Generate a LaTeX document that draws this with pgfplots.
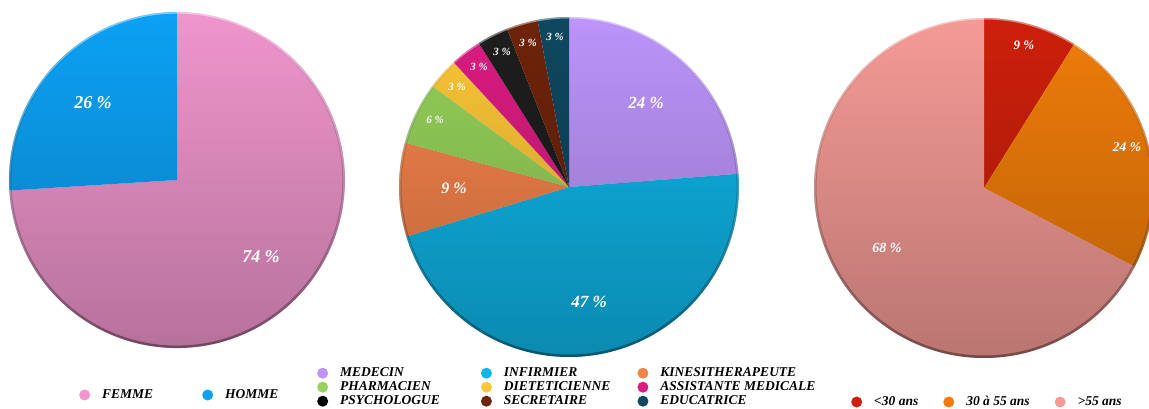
\documentclass[border=0pt]{standalone}
\usepackage{pgfplots}
\pgfplotsset{compat=1.18}
\usetikzlibrary{fadings}
\usepackage{fontspec}
\setmainfont{Liberation Serif}

\definecolor{femme}{RGB}{240,150,205}
\definecolor{homme}{RGB}{12,162,245}
\definecolor{medecin}{RGB}{188,148,250}
\definecolor{infirmier}{RGB}{15,182,232}
\definecolor{kine}{RGB}{245,132,75}
\definecolor{pharma}{RGB}{150,210,90}
\definecolor{diet}{RGB}{252,198,55}
\definecolor{assist}{RGB}{220,28,130}
\definecolor{psycho}{RGB}{30,30,30}
\definecolor{secr}{RGB}{110,36,10}
\definecolor{educ}{RGB}{15,72,95}
\definecolor{jeune}{RGB}{205,32,12}
\definecolor{moyen}{RGB}{240,125,10}
\definecolor{senior}{RGB}{245,155,150}

% slice: cx cy r total start end color
\newcommand{\slice}[7]{%
  \addplot[draw=none, fill=#7, domain=90-360*(#6)/(#4):90-360*(#5)/(#4), samples=120]
    ({#1+#3*cos(x)}, {#2+#3*sin(x)}) -- (axis cs:#1,#2) -- cycle;
}
\newcommand{\gloss}[3]{%
  \fill[black, opacity=0.24, path fading=north] (axis cs:#1,#2) circle[radius=#3];
  \draw[black, line width=2.5pt, opacity=0.38, path fading=north] (axis cs:#1,#2) circle[radius=#3-1.25];
  \draw[white, line width=1.5pt, opacity=0.45, path fading=south] (axis cs:#1,#2) circle[radius=#3-0.75];
}
\newcommand{\lab}[4]{%
  \node[text=white, inner sep=0pt, font=\bfseries\itshape\fontsize{#3}{#3}\selectfont] at (axis cs:#1,#2) {#4};
}

\pgfplotsset{
  base/.style={
    width=1149pt, height=408pt, scale only axis,
    xmin=0, xmax=1149, ymin=0, ymax=408,
    hide axis, at={(0,0)}, anchor=south west,
  },
  dotlegend/.style={
    legend image code/.code={\fill[##1, draw=none] (5.5pt,0pt) circle[radius=5.5pt];},
    legend style={draw=none, fill=none, inner sep=0pt,
      font=\bfseries\itshape\fontsize{13.5}{14}\selectfont,
      nodes={inner xsep=0pt, inner ysep=0.75pt, text height=9.5pt, text depth=3pt},
      /tikz/every odd column/.append style={column sep=12pt}},
    legend cell align=left,
  },
}

\begin{document}
\begin{tikzpicture}
\begin{axis}[base]
% ---- pie 1 : sexe (total 100)
\slice{177}{228}{168}{100}{0}{74}{femme}
\slice{177}{228}{168}{100}{74}{100}{homme}
\gloss{177}{228}{168}
% ---- pie 2 : profession (total 101)
\slice{569}{221}{170}{101}{0}{24}{medecin}
\slice{569}{221}{170}{101}{24}{71}{infirmier}
\slice{569}{221}{170}{101}{71}{80}{kine}
\slice{569}{221}{170}{101}{80}{86}{pharma}
\slice{569}{221}{170}{101}{86}{89}{diet}
\slice{569}{221}{170}{101}{89}{92}{assist}
\slice{569}{221}{170}{101}{92}{95}{psycho}
\slice{569}{221}{170}{101}{95}{98}{secr}
\slice{569}{221}{170}{101}{98}{101}{educ}
\gloss{569}{221}{170}
% ---- pie 3 : age (total 101)
\slice{984}{220}{170}{101}{0}{9}{jeune}
\slice{984}{220}{170}{101}{9}{33}{moyen}
\slice{984}{220}{170}{101}{33}{101}{senior}
\gloss{984}{220}{170}
% ---- labels
\lab{93}{305}{18}{26 \%}
\lab{261}{151}{18}{74 \%}
\lab{646}{305}{17}{24 \%}
\lab{589}{106}{17}{47 \%}
\lab{454}{220}{16}{9 \%}
\lab{435}{288}{11}{6 \%}
\lab{457}{321}{11}{3 \%}
\lab{479}{341}{11}{3 \%}
\lab{502}{356}{11}{3 \%}
\lab{528}{365}{11}{3 \%}
\lab{555}{371}{11}{3 \%}
\lab{1024}{363}{13}{9 \%}
\lab{1127}{261}{13.5}{24 \%}
\lab{887}{160}{14}{68 \%}
\end{axis}

% legend 1
\begin{axis}[base, dotlegend, legend columns=2,
  legend style={at={(79/1149,13/408)}, anchor=west,
    /tikz/every even column/.append style={column sep=49pt}}]
\addlegendimage{fill=femme}\addlegendentry{FEMME}
\addlegendimage{fill=homme}\addlegendentry{HOMME}
\end{axis}

% legend 2
\begin{axis}[base, dotlegend, legend columns=3,
  legend style={at={(317/1149,42/408)}, anchor=north west,
    /tikz/column 2/.style={column sep=41pt},
    /tikz/column 4/.style={column sep=27pt}}]
\addlegendimage{fill=medecin}\addlegendentry{MEDECIN}
\addlegendimage{fill=infirmier}\addlegendentry{INFIRMIER}
\addlegendimage{fill=kine}\addlegendentry{KINESITHERAPEUTE}
\addlegendimage{fill=pharma}\addlegendentry{PHARMACIEN}
\addlegendimage{fill=diet}\addlegendentry{DIETETICIENNE}
\addlegendimage{fill=assist}\addlegendentry{ASSISTANTE MEDICALE}
\addlegendimage{fill=black}\addlegendentry{PSYCHOLOGUE}
\addlegendimage{fill=secr}\addlegendentry{SECRETAIRE}
\addlegendimage{fill=educ}\addlegendentry{EDUCATRICE}
\end{axis}

% legend 3
\begin{axis}[base, dotlegend, legend columns=3,
  legend style={at={(851/1149,6/408)}, anchor=west,
    /tikz/every even column/.append style={column sep=25pt}}]
\addlegendimage{fill=jeune}\addlegendentry{<30 ans}
\addlegendimage{fill=moyen}\addlegendentry{30 à 55 ans}
\addlegendimage{fill=senior}\addlegendentry{>55 ans}
\end{axis}

\pgfresetboundingbox
\useasboundingbox (0,0) rectangle (1149pt,408pt);
\end{tikzpicture}
\end{document}
